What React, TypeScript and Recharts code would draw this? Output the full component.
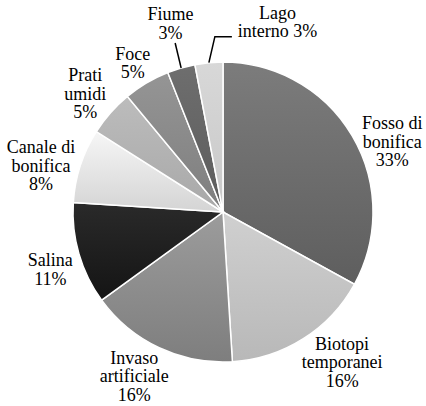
import React from "react";
import { PieChart, Pie, Cell } from "recharts";

const categories = [
  "Fosso di bonifica",
  "Biotopi temporanei",
  "Invaso artificiale",
  "Salina",
  "Canale di bonifica",
  "Prati umidi",
  "Foce",
  "Fiume",
  "Lago interno",
];
const shares = [33, 16, 16, 11, 8, 5, 5, 3, 3];
const labelLines = [
  ["Fosso di", "bonifica"],
  ["Biotopi", "temporanei"],
  ["Invaso", "artificiale"],
  ["Salina"],
  ["Canale di", "bonifica"],
  ["Prati", "umidi"],
  ["Foce"],
  ["Fiume"],
  ["Lago", "interno"],
];
const percentOnLastLine = [false, false, false, false, false, false, false, false, true];

// style: gradient stops (top, bottom) per slice
const sliceTop = ["#7c7c7c", "#d0d0d0", "#9c9c9c", "#2a2a2a", "#f6f6f6", "#bcbcbc", "#959595", "#6e6e6e", "#d8d8d8"];
const sliceBottom = ["#5e5e5e", "#b8b8b8", "#7e7e7e", "#141414", "#d4d4d4", "#a8a8a8", "#7e7e7e", "#5c5c5c", "#c8c8c8"];

// layout nudges for labels (pixels, relative to radial position)
const LABEL_R_OFFSET = 35;
const labelNudge: [number, number][] = [
  [10, 24],
  [20, -6],
  [-10, -3],
  [5, 6],
  [-6, 11],
  [1, 4],
  [4, 10],
  [-1, -11],
  [72, -6],
];

const data = categories.map((name, i) => ({ name, value: shares[i] }));

const RADIAN = Math.PI / 180;
const FONT = '"Liberation Serif", "Times New Roman", serif';
const FS = 18;
const LH = 18.5;

const renderLabel = (props: any) => {
  const { cx, cy, midAngle, outerRadius, index } = props;
  const r = outerRadius + LABEL_R_OFFSET;
  const x = cx + r * Math.cos(-midAngle * RADIAN) + labelNudge[index][0];
  const y = cy + r * Math.sin(-midAngle * RADIAN) + labelNudge[index][1];
  const lines = [...labelLines[index]];
  const pct = `${shares[index]}%`;
  if (percentOnLastLine[index]) {
    lines[lines.length - 1] = `${lines[lines.length - 1]} ${pct}`;
  } else {
    lines.push(pct);
  }
  const startY = y - ((lines.length - 1) * LH) / 2;
  return (
    <text
      key={`lbl-${index}`}
      x={x}
      y={startY}
      textAnchor="middle"
      dominantBaseline="central"
      fontFamily={FONT}
      fontSize={FS}
      fill="#000"
    >
      {lines.map((ln, i) => (
        <tspan key={i} x={x} y={startY + i * LH} dominantBaseline="central">
          {ln}
        </tspan>
      ))}
    </text>
  );
};

const renderLabelLine = (props: any) => {
  const { cx, cy, midAngle, outerRadius, index } = props;
  const ex = cx + outerRadius * Math.cos(-midAngle * RADIAN);
  const ey = cy + outerRadius * Math.sin(-midAngle * RADIAN);
  if (index === 7) {
    return (
      <polyline
        key={`ll-${index}`}
        points={`${ex},${ey} ${ex - 6},${ey - 25}`}
        fill="none"
        stroke="#000"
        strokeWidth={1.5}
      />
    );
  }
  if (index === 8) {
    return (
      <polyline
        key={`ll-${index}`}
        points={`${ex},${ey} ${ex + 6},${ey - 26} ${ex + 23},${ey - 26}`}
        fill="none"
        stroke="#000"
        strokeWidth={1.5}
      />
    );
  }
  return <g key={`ll-${index}`} />;
};

export default function App() {
  return (
    <div style={{ position: "absolute", left: 0, top: 0, background: "#fff" }}>
      <PieChart width={426} height={406} margin={{ top: 0, right: 0, bottom: 0, left: 0 }}>
        <defs>
          {sliceTop.map((c, i) => (
            <linearGradient key={i} id={`sg${i}`} x1="0" y1="0" x2="0" y2="1">
              <stop offset="0%" stopColor={c} />
              <stop offset="100%" stopColor={sliceBottom[i]} />
            </linearGradient>
          ))}
        </defs>
        <Pie
          data={data}
          dataKey="value"
          nameKey="name"
          cx={223}
          cy={212}
          outerRadius={150}
          startAngle={90}
          endAngle={-270}
          stroke="#ffffff"
          strokeWidth={1.5}
          isAnimationActive={false}
          label={renderLabel}
          labelLine={renderLabelLine}
        >
          {data.map((_, i) => (
            <Cell key={i} fill={`url(#sg${i})`} />
          ))}
        </Pie>
      </PieChart>
    </div>
  );
}
